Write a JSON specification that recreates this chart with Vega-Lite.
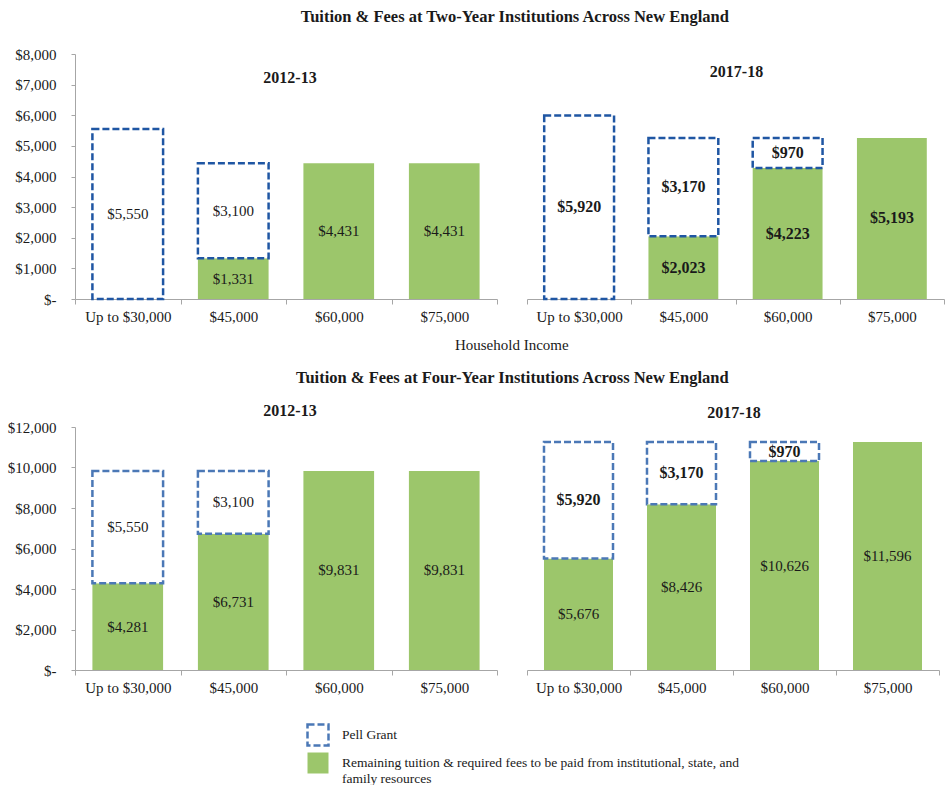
{
  "$schema": "https://vega.github.io/schema/vega-lite/v6.json",
  "padding": {"left": 5, "right": 5, "top": 8, "bottom": 5},
  "config": {
    "font": "Liberation Serif",
    "view": {"stroke": null},
    "title": {"font": "Liberation Serif", "color": "#1a1a1a", "anchor": "middle"},
    "axis": {"labelFont": "Liberation Serif", "labelFontSize": 15, "labelColor": "#1a1a1a", "domainColor": "#A6A6A6", "tickColor": "#A6A6A6", "grid": false, "title": null, "labelOverlap": false, "labelFlush": false},
    "legend": {"labelFont": "Liberation Serif"},
    "concat": {"spacing": 28}
  },
  "datasets": {
    "rows": [
      {"chart": "Two-Year", "year": "2012-13", "income": "Up to $30,000", "series": "Pell Grant", "amount": 5550},
      {"chart": "Two-Year", "year": "2012-13", "income": "$45,000", "series": "Remaining", "amount": 1331},
      {"chart": "Two-Year", "year": "2012-13", "income": "$45,000", "series": "Pell Grant", "amount": 3100},
      {"chart": "Two-Year", "year": "2012-13", "income": "$60,000", "series": "Remaining", "amount": 4431},
      {"chart": "Two-Year", "year": "2012-13", "income": "$75,000", "series": "Remaining", "amount": 4431},
      {"chart": "Two-Year", "year": "2017-18", "income": "Up to $30,000", "series": "Pell Grant", "amount": 5920},
      {"chart": "Two-Year", "year": "2017-18", "income": "$45,000", "series": "Remaining", "amount": 2023},
      {"chart": "Two-Year", "year": "2017-18", "income": "$45,000", "series": "Pell Grant", "amount": 3170},
      {"chart": "Two-Year", "year": "2017-18", "income": "$60,000", "series": "Remaining", "amount": 4223},
      {"chart": "Two-Year", "year": "2017-18", "income": "$60,000", "series": "Pell Grant", "amount": 970},
      {"chart": "Two-Year", "year": "2017-18", "income": "$75,000", "series": "Remaining", "amount": 5193},
      {"chart": "Four-Year", "year": "2012-13", "income": "Up to $30,000", "series": "Remaining", "amount": 4281},
      {"chart": "Four-Year", "year": "2012-13", "income": "Up to $30,000", "series": "Pell Grant", "amount": 5550},
      {"chart": "Four-Year", "year": "2012-13", "income": "$45,000", "series": "Remaining", "amount": 6731},
      {"chart": "Four-Year", "year": "2012-13", "income": "$45,000", "series": "Pell Grant", "amount": 3100},
      {"chart": "Four-Year", "year": "2012-13", "income": "$60,000", "series": "Remaining", "amount": 9831},
      {"chart": "Four-Year", "year": "2012-13", "income": "$75,000", "series": "Remaining", "amount": 9831},
      {"chart": "Four-Year", "year": "2017-18", "income": "Up to $30,000", "series": "Remaining", "amount": 5676},
      {"chart": "Four-Year", "year": "2017-18", "income": "Up to $30,000", "series": "Pell Grant", "amount": 5920},
      {"chart": "Four-Year", "year": "2017-18", "income": "$45,000", "series": "Remaining", "amount": 8426},
      {"chart": "Four-Year", "year": "2017-18", "income": "$45,000", "series": "Pell Grant", "amount": 3170},
      {"chart": "Four-Year", "year": "2017-18", "income": "$60,000", "series": "Remaining", "amount": 10626},
      {"chart": "Four-Year", "year": "2017-18", "income": "$60,000", "series": "Pell Grant", "amount": 970},
      {"chart": "Four-Year", "year": "2017-18", "income": "$75,000", "series": "Remaining", "amount": 11596}
    ]
  },
  "data": {"name": "rows"},
  "spacing": 16,
  "vconcat": [
    {
      "title": {"text": "Tuition & Fees at Two-Year Institutions Across New England", "fontSize": 16.5, "fontWeight": "bold", "dx": 40, "offset": 22},
      "vconcat": [
        {
          "title": {"text": "Household Income", "orient": "bottom", "fontSize": 15, "fontWeight": "normal", "dx": 37, "offset": 14},
          "spacing": 28,
          "hconcat": [
            {
              "width": 422, "height": 245,
              "title": {"text": "2012-13", "fontSize": 16, "fontWeight": "bold", "offset": -39, "dx": 4},
              "transform": [{"filter": "datum.chart === 'Two-Year' && datum.year === '2012-13'"}],
              "encoding": {
                "x": {"field": "income", "type": "nominal", "sort": ["Up to $30,000", "$45,000", "$60,000", "$75,000"], "scale": {"paddingInner": 0, "paddingOuter": 0}, "axis": {"labelAngle": 0, "tickBand": "extent", "tickSize": 5, "labelPadding": 5}},
                "order": {"field": "series", "sort": "descending"}
              },
              "layer": [
                {
                  "mark": {"type": "bar", "width": {"band": 0.67}, "strokeWidth": 2.5, "strokeDash": [7, 3]},
                  "encoding": {
                    "y": {"field": "amount", "type": "quantitative", "stack": "zero", "scale": {"domain": [0, 8000], "nice": false}, "axis": {"values": [0, 1000, 2000, 3000, 4000, 5000, 6000, 7000, 8000], "labelOverlap": false, "labelExpr": "datum.value === 0 ? '$-' : '$' + format(datum.value, ',')", "tickSize": 4, "labelPadding": 15, "minExtent": 70, "maxExtent": 70}},
                    "fill": {"field": "series", "type": "nominal", "scale": {"domain": ["Pell Grant", "Remaining"], "range": ["white", "#9CC66B"]}, "legend": {"title": null, "orient": "none", "legendX": 231, "legendY": 669, "direction": "vertical", "symbolType": "square", "symbolSize": 441, "labelFontSize": 13.5, "labelLimit": 0, "rowPadding": -8, "labelOffset": 12, "labelColor": "#1a1a1a", "symbolStrokeWidth": 2.5, "labelExpr": "datum.label === 'Pell Grant' ? 'Pell Grant' : ['Remaining tuition & required fees to be paid from institutional, state, and', 'family resources']"}},
                    "stroke": {"condition": {"test": "datum.series === 'Pell Grant'", "value": "#1F56A3"}, "value": "transparent"}
                  }
                },
                {
                  "mark": {"type": "text", "fontSize": 15, "fontWeight": "normal"},
                  "encoding": {
                    "y": {"field": "amount", "type": "quantitative", "stack": "zero", "bandPosition": 0.5, "scale": {"domain": [0, 8000], "nice": false}, "axis": {"values": [0, 1000, 2000, 3000, 4000, 5000, 6000, 7000, 8000], "labelOverlap": false, "labelExpr": "datum.value === 0 ? '$-' : '$' + format(datum.value, ',')", "tickSize": 4, "labelPadding": 15, "minExtent": 70, "maxExtent": 70}},
                    "detail": {"field": "series"},
                    "text": {"field": "amount", "type": "quantitative", "format": "$,.0f"},
                    "color": {"value": "#1a1a1a"}
                  }
                }
              ]
            },
            {
              "width": 417, "height": 245,
              "title": {"text": "2017-18", "fontSize": 16, "fontWeight": "bold", "offset": -26, "dx": 1},
              "transform": [{"filter": "datum.chart === 'Two-Year' && datum.year === '2017-18'"}],
              "encoding": {
                "x": {"field": "income", "type": "nominal", "sort": ["Up to $30,000", "$45,000", "$60,000", "$75,000"], "scale": {"paddingInner": 0, "paddingOuter": 0}, "axis": {"labelAngle": 0, "tickBand": "extent", "tickSize": 5, "labelPadding": 5}},
                "order": {"field": "series", "sort": "descending"}
              },
              "layer": [
                {
                  "mark": {"type": "bar", "width": {"band": 0.67}, "strokeWidth": 2.5, "strokeDash": [7, 3]},
                  "encoding": {
                    "y": {"field": "amount", "type": "quantitative", "stack": "zero", "scale": {"domain": [0, 7900], "nice": false}, "axis": null},
                    "fill": {"field": "series", "type": "nominal", "scale": {"domain": ["Pell Grant", "Remaining"], "range": ["white", "#9CC66B"]}, "legend": {"title": null, "orient": "none", "legendX": 231, "legendY": 669, "direction": "vertical", "symbolType": "square", "symbolSize": 441, "labelFontSize": 13.5, "labelLimit": 0, "rowPadding": -8, "labelOffset": 12, "labelColor": "#1a1a1a", "symbolStrokeWidth": 2.5, "labelExpr": "datum.label === 'Pell Grant' ? 'Pell Grant' : ['Remaining tuition & required fees to be paid from institutional, state, and', 'family resources']"}},
                    "stroke": {"condition": {"test": "datum.series === 'Pell Grant'", "value": "#1F56A3"}, "value": "transparent"}
                  }
                },
                {
                  "mark": {"type": "text", "fontSize": 16, "fontWeight": "bold"},
                  "encoding": {
                    "y": {"field": "amount", "type": "quantitative", "stack": "zero", "bandPosition": 0.5, "scale": {"domain": [0, 7900], "nice": false}, "axis": null},
                    "detail": {"field": "series"},
                    "text": {"field": "amount", "type": "quantitative", "format": "$,.0f"},
                    "color": {"value": "#1a1a1a"}
                  }
                }
              ]
            }
          ]
        }
      ]
    },
    {
      "title": {"text": "Tuition & Fees at Four-Year Institutions Across New England", "fontSize": 16.5, "fontWeight": "bold", "dx": 40, "offset": 17},
      "spacing": 28,
      "hconcat": [
        {
          "width": 422, "height": 243,
          "title": {"text": "2012-13", "fontSize": 16, "fontWeight": "bold", "offset": 1, "dx": 4},
          "transform": [{"filter": "datum.chart === 'Four-Year' && datum.year === '2012-13'"}],
          "encoding": {
            "x": {"field": "income", "type": "nominal", "sort": ["Up to $30,000", "$45,000", "$60,000", "$75,000"], "scale": {"paddingInner": 0, "paddingOuter": 0}, "axis": {"labelAngle": 0, "tickBand": "extent", "tickSize": 5, "labelPadding": 5}},
            "order": {"field": "series", "sort": "descending"}
          },
          "layer": [
            {
              "mark": {"type": "bar", "width": {"band": 0.67}, "strokeWidth": 2.5},
              "encoding": {
                "y": {"field": "amount", "type": "quantitative", "stack": "zero", "scale": {"domain": [0, 12000], "nice": false}, "axis": {"values": [0, 2000, 4000, 6000, 8000, 10000, 12000], "labelOverlap": false, "labelExpr": "datum.value === 0 ? '$-' : '$' + format(datum.value, ',')", "tickSize": 4, "labelPadding": 15, "minExtent": 70, "maxExtent": 70}},
                "fill": {"field": "series", "type": "nominal", "scale": {"domain": ["Pell Grant", "Remaining"], "range": ["white", "#9CC66B"]}, "legend": {"title": null, "orient": "none", "legendX": 231, "legendY": 669, "direction": "vertical", "symbolType": "square", "symbolSize": 441, "labelFontSize": 13.5, "labelLimit": 0, "rowPadding": -8, "labelOffset": 12, "labelColor": "#1a1a1a", "symbolStrokeWidth": 2.5, "labelExpr": "datum.label === 'Pell Grant' ? 'Pell Grant' : ['Remaining tuition & required fees to be paid from institutional, state, and', 'family resources']"}},
                "stroke": {"field": "series", "type": "nominal", "scale": {"domain": ["Pell Grant", "Remaining"], "range": ["#4B78B6", "transparent"]}, "legend": {"title": null, "orient": "none", "legendX": 231, "legendY": 669, "direction": "vertical", "symbolType": "square", "symbolSize": 441, "labelFontSize": 13.5, "labelLimit": 0, "rowPadding": -8, "labelOffset": 12, "labelColor": "#1a1a1a", "symbolStrokeWidth": 2.5, "labelExpr": "datum.label === 'Pell Grant' ? 'Pell Grant' : ['Remaining tuition & required fees to be paid from institutional, state, and', 'family resources']"}},
                "strokeDash": {"field": "series", "type": "nominal", "scale": {"domain": ["Pell Grant", "Remaining"], "range": [[7, 3], [1, 0]]}, "legend": {"title": null, "orient": "none", "legendX": 231, "legendY": 669, "direction": "vertical", "symbolType": "square", "symbolSize": 441, "labelFontSize": 13.5, "labelLimit": 0, "rowPadding": -8, "labelOffset": 12, "labelColor": "#1a1a1a", "symbolStrokeWidth": 2.5, "labelExpr": "datum.label === 'Pell Grant' ? 'Pell Grant' : ['Remaining tuition & required fees to be paid from institutional, state, and', 'family resources']"}}
              }
            },
            {
              "mark": {"type": "text", "fontSize": 15, "fontWeight": "normal"},
              "encoding": {
                "y": {"field": "amount", "type": "quantitative", "stack": "zero", "bandPosition": 0.5, "scale": {"domain": [0, 12000], "nice": false}, "axis": {"values": [0, 2000, 4000, 6000, 8000, 10000, 12000], "labelOverlap": false, "labelExpr": "datum.value === 0 ? '$-' : '$' + format(datum.value, ',')", "tickSize": 4, "labelPadding": 15, "minExtent": 70, "maxExtent": 70}},
                "detail": {"field": "series"},
                "text": {"field": "amount", "type": "quantitative", "format": "$,.0f"},
                "color": {"value": "#1a1a1a"}
              }
            }
          ]
        },
        {
          "width": 412, "height": 243,
          "title": {"text": "2017-18", "fontSize": 16, "fontWeight": "bold", "offset": 6, "dx": 1},
          "transform": [{"filter": "datum.chart === 'Four-Year' && datum.year === '2017-18'"}],
          "encoding": {
            "x": {"field": "income", "type": "nominal", "sort": ["Up to $30,000", "$45,000", "$60,000", "$75,000"], "scale": {"paddingInner": 0, "paddingOuter": 0}, "axis": {"labelAngle": 0, "tickBand": "extent", "tickSize": 5, "labelPadding": 5}},
            "order": {"field": "series", "sort": "descending"}
          },
          "layer": [
            {
              "mark": {"type": "bar", "width": {"band": 0.67}, "strokeWidth": 2.5},
              "encoding": {
                "y": {"field": "amount", "type": "quantitative", "stack": "zero", "scale": {"domain": [0, 12360], "nice": false}, "axis": null},
                "fill": {"field": "series", "type": "nominal", "scale": {"domain": ["Pell Grant", "Remaining"], "range": ["white", "#9CC66B"]}, "legend": {"title": null, "orient": "none", "legendX": 231, "legendY": 669, "direction": "vertical", "symbolType": "square", "symbolSize": 441, "labelFontSize": 13.5, "labelLimit": 0, "rowPadding": -8, "labelOffset": 12, "labelColor": "#1a1a1a", "symbolStrokeWidth": 2.5, "labelExpr": "datum.label === 'Pell Grant' ? 'Pell Grant' : ['Remaining tuition & required fees to be paid from institutional, state, and', 'family resources']"}},
                "stroke": {"field": "series", "type": "nominal", "scale": {"domain": ["Pell Grant", "Remaining"], "range": ["#4B78B6", "transparent"]}, "legend": {"title": null, "orient": "none", "legendX": 231, "legendY": 669, "direction": "vertical", "symbolType": "square", "symbolSize": 441, "labelFontSize": 13.5, "labelLimit": 0, "rowPadding": -8, "labelOffset": 12, "labelColor": "#1a1a1a", "symbolStrokeWidth": 2.5, "labelExpr": "datum.label === 'Pell Grant' ? 'Pell Grant' : ['Remaining tuition & required fees to be paid from institutional, state, and', 'family resources']"}},
                "strokeDash": {"field": "series", "type": "nominal", "scale": {"domain": ["Pell Grant", "Remaining"], "range": [[7, 3], [1, 0]]}, "legend": {"title": null, "orient": "none", "legendX": 231, "legendY": 669, "direction": "vertical", "symbolType": "square", "symbolSize": 441, "labelFontSize": 13.5, "labelLimit": 0, "rowPadding": -8, "labelOffset": 12, "labelColor": "#1a1a1a", "symbolStrokeWidth": 2.5, "labelExpr": "datum.label === 'Pell Grant' ? 'Pell Grant' : ['Remaining tuition & required fees to be paid from institutional, state, and', 'family resources']"}}
              }
            },
            {
              "mark": {"type": "text", "fontSize": 16, "fontWeight": "bold"},
              "encoding": {
                "y": {"field": "amount", "type": "quantitative", "stack": "zero", "bandPosition": 0.5, "scale": {"domain": [0, 12360], "nice": false}, "axis": null},
                "detail": {"field": "series"},
                "text": {"field": "amount", "type": "quantitative", "format": "$,.0f"},
                "color": {"condition": {"test": "datum.series === 'Pell Grant'", "value": "#1a1a1a"}, "value": "transparent"}
              }
            },
            {
              "mark": {"type": "text", "fontSize": 15, "fontWeight": "normal"},
              "encoding": {
                "y": {"field": "amount", "type": "quantitative", "stack": "zero", "bandPosition": 0.5, "scale": {"domain": [0, 12360], "nice": false}, "axis": null},
                "detail": {"field": "series"},
                "text": {"field": "amount", "type": "quantitative", "format": "$,.0f"},
                "color": {"condition": {"test": "datum.series === 'Pell Grant'", "value": "transparent"}, "value": "#1a1a1a"}
              }
            }
          ]
        }
      ]
    }
  ]
}
